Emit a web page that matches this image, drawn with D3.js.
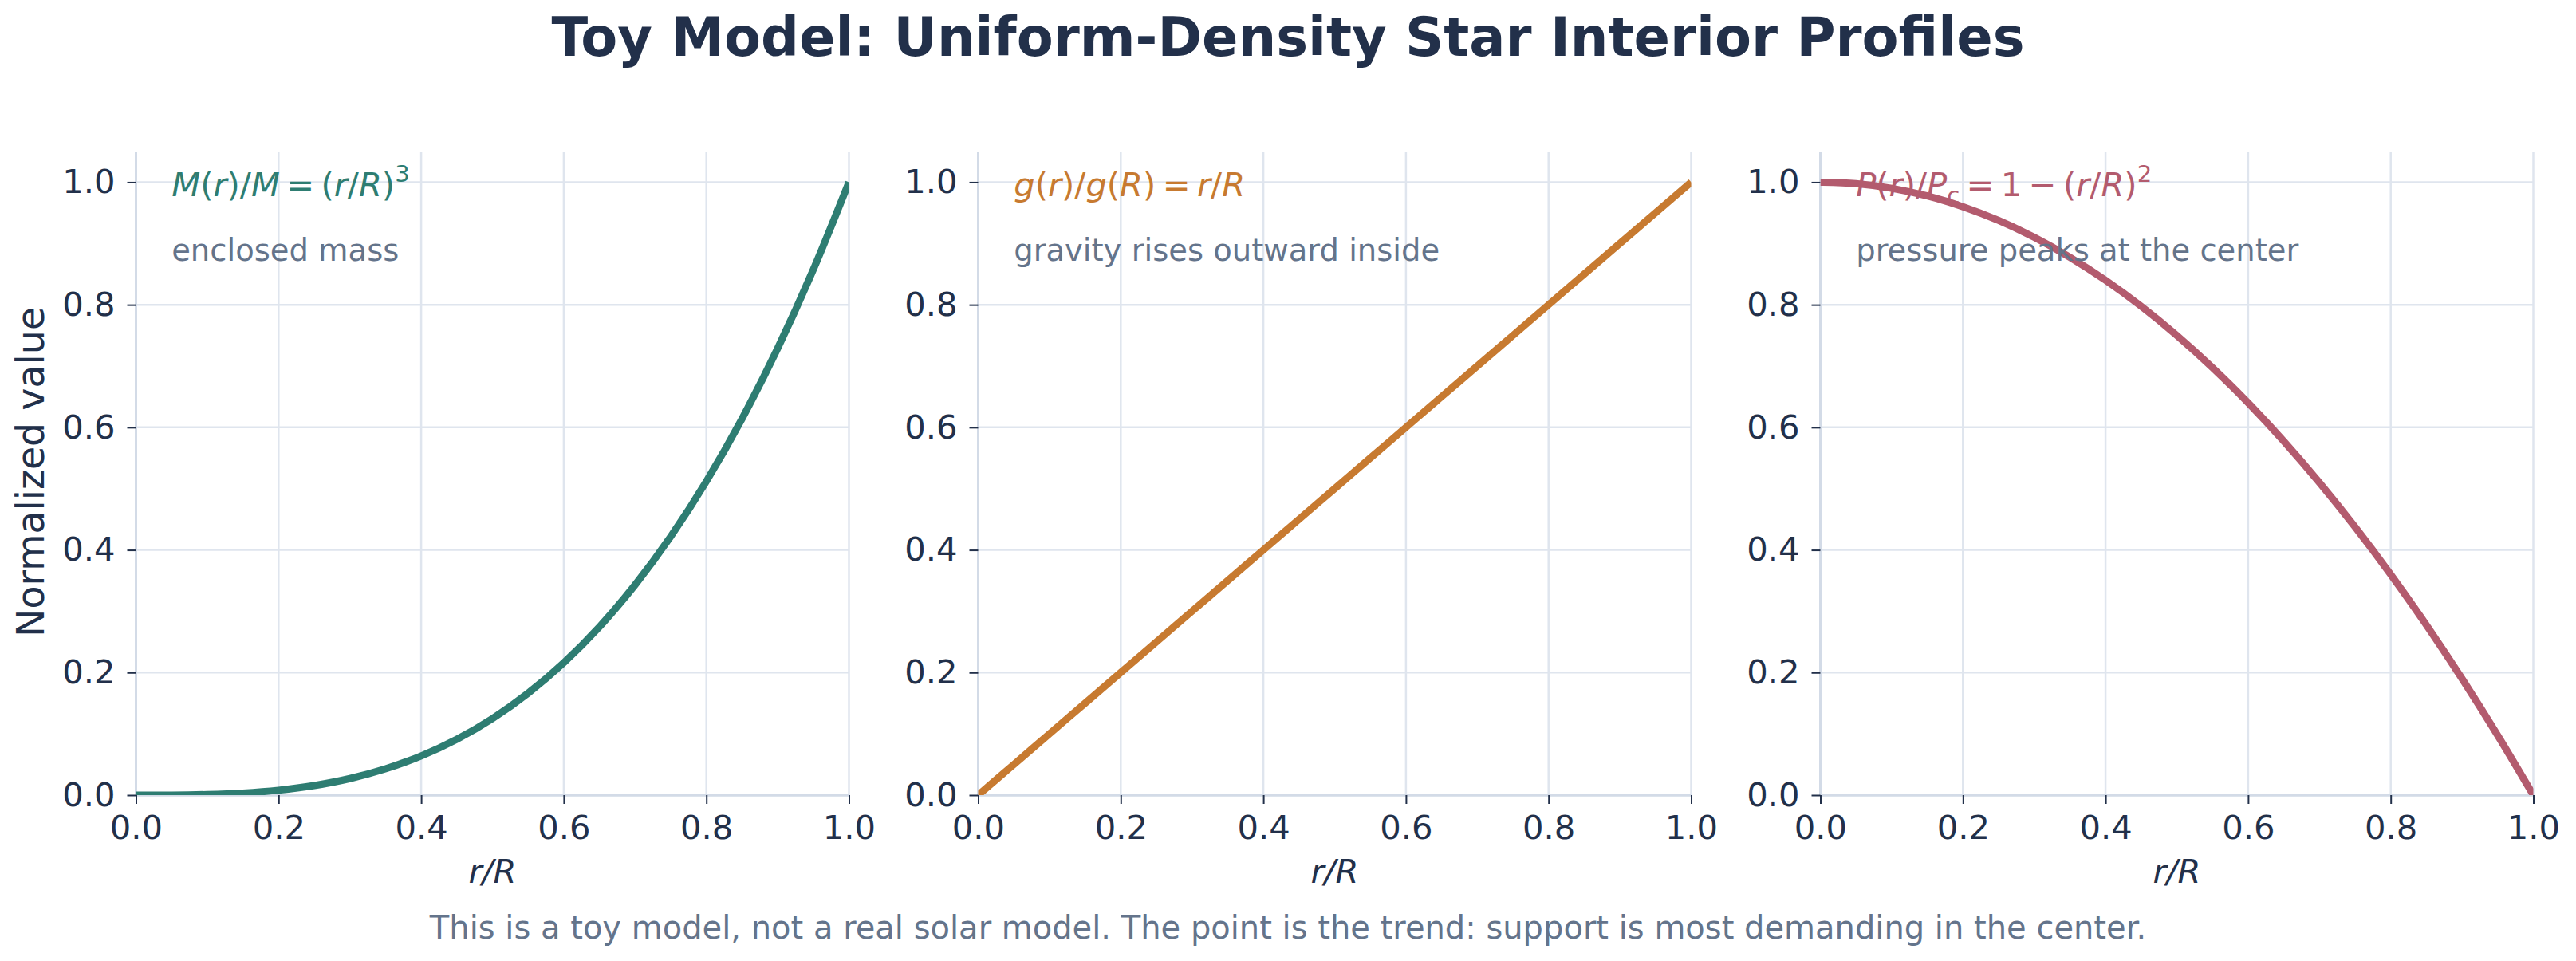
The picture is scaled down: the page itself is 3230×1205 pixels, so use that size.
<!DOCTYPE html>
<html>
<head>
<meta charset="utf-8">
<script src="https://cdn.jsdelivr.net/npm/d3@7"></script>
<style>
  html, body { margin: 0; padding: 0; background: #fff; }
  svg { display: block; font-family: "DejaVu Sans", sans-serif; }
</style>
</head>
<body>
<svg id="chart" width="3230" height="1205"></svg>
<script>
// values, r/R from 0 to 1 in steps of 0.05
const rValues = [0, 0.05, 0.1, 0.15, 0.2, 0.25, 0.3, 0.35, 0.4, 0.45, 0.5,
  0.55, 0.6, 0.65, 0.7, 0.75, 0.8, 0.85, 0.9, 0.95, 1.0];
const massValues = [0, 0.0001, 0.001, 0.0034, 0.008, 0.0156, 0.027, 0.0429, 0.064, 0.0911, 0.125,
  0.1664, 0.216, 0.2746, 0.343, 0.4219, 0.512, 0.6141, 0.729, 0.8574, 1.0];
const gravityValues = [0, 0.05, 0.1, 0.15, 0.2, 0.25, 0.3, 0.35, 0.4, 0.45, 0.5,
  0.55, 0.6, 0.65, 0.7, 0.75, 0.8, 0.85, 0.9, 0.95, 1.0];
const pressureValues = [1.0, 0.9975, 0.99, 0.9775, 0.96, 0.9375, 0.91, 0.8775, 0.84, 0.7975, 0.75,
  0.6975, 0.64, 0.5775, 0.51, 0.4375, 0.36, 0.2775, 0.19, 0.0975, 0];

const seriesValues = [massValues, gravityValues, pressureValues];
const seriesColors = ['#2e7d72', '#c77a30', '#b35b6e'];
const seriesNotes = ['enclosed mass', 'gravity rises outward inside', 'pressure peaks at the center'];
// formula pieces: [text, kind] kind = i (italic), n (upright), sup, sub
const seriesFormulas = [
  [['M', 'i'], ['(', 'n'], ['r', 'i'], [')/', 'n'], ['M', 'i'], ['\u2009=\u2009', 'n'], ['(', 'n'], ['r', 'i'], ['/', 'n'], ['R', 'i'], [')', 'n'], ['3', 'sup']],
  [['g', 'i'], ['(', 'n'], ['r', 'i'], [')/', 'n'], ['g', 'i'], ['(', 'n'], ['R', 'i'], [')', 'n'], ['\u2009=\u2009', 'n'], ['r', 'i'], ['/', 'n'], ['R', 'i']],
  [['P', 'i'], ['(', 'n'], ['r', 'i'], [')/', 'n'], ['P', 'i'], ['c', 'sub'], ['\u2009=\u20091\u2009\u2212\u2009', 'n'], ['(', 'n'], ['r', 'i'], ['/', 'n'], ['R', 'i'], [')', 'n'], ['2', 'sup']]
];
const xTicks = [0, 0.2, 0.4, 0.6, 0.8, 1.0];
const yTicks = [0, 0.2, 0.4, 0.6, 0.8, 1.0];

const titleText = 'Toy Model: Uniform-Density Star Interior Profiles';
const footerText = 'This is a toy model, not a real solar model. The point is the trend: support is most demanding in the center.';

const ink = '#22304a';
const muted = '#64748b';
const gridColor = '#dfe5ee';
const spineColor = '#d3dbe7';

const svg = d3.select('#chart');
const panelLefts = [170.5, 1226.5, 2282.5];
const panelWidth = 894;
const plotTop = 190, plotBottom = 997;

const y = d3.scaleLinear().domain([0, 1.05]).range([plotBottom, plotTop]);

svg.append('text')
  .attr('x', 1615).attr('y', 70)
  .attr('text-anchor', 'middle')
  .attr('font-size', 67).attr('font-weight', 'bold')
  .attr('fill', ink)
  .text(titleText);

const defs = svg.append('defs');

panelLefts.forEach((left, i) => {
  const x = d3.scaleLinear().domain([0, 1]).range([left, left + panelWidth]);
  const g = svg.append('g');

  // grid
  g.append('g').selectAll('line').data(xTicks).join('line')
    .attr('x1', d => x(d)).attr('x2', d => x(d))
    .attr('y1', plotTop).attr('y2', plotBottom)
    .attr('stroke', gridColor).attr('stroke-width', 2.5);
  g.append('g').selectAll('line').data(yTicks).join('line')
    .attr('x1', x(0)).attr('x2', x(1))
    .attr('y1', d => y(d)).attr('y2', d => y(d))
    .attr('stroke', gridColor).attr('stroke-width', 2.5);

  // spines (left + bottom only)
  g.append('line').attr('x1', x(0)).attr('x2', x(0)).attr('y1', plotTop).attr('y2', plotBottom)
    .attr('stroke', spineColor).attr('stroke-width', 3);
  g.append('line').attr('x1', x(0)).attr('x2', x(1)).attr('y1', plotBottom).attr('y2', plotBottom)
    .attr('stroke', spineColor).attr('stroke-width', 3.5);

  // axes
  const xAxis = g.append('g').attr('transform', `translate(0,${plotBottom})`)
    .call(d3.axisBottom(x).tickValues(xTicks).tickFormat(d3.format('.1f')).tickSize(11).tickPadding(14));
  const yAxis = g.append('g').attr('transform', `translate(${x(0)},0)`)
    .call(d3.axisLeft(y).tickValues(yTicks).tickFormat(d3.format('.1f')).tickSize(11).tickPadding(15));
  [xAxis, yAxis].forEach(a => {
    a.select('.domain').remove();
    a.selectAll('.tick line').attr('stroke', ink).attr('stroke-width', 2);
    a.selectAll('.tick text').attr('fill', ink).attr('font-size', 41.7)
      .attr('font-family', '"DejaVu Sans", sans-serif');
  });

  // curve, clipped to the axes box
  const clipId = 'clip' + i;
  defs.append('clipPath').attr('id', clipId).append('rect')
    .attr('x', x(0)).attr('y', plotTop).attr('width', panelWidth).attr('height', plotBottom - plotTop);
  const line = d3.line()
    .x((d, k) => x(rValues[k]))
    .y(d => y(d))
    .curve(d3.curveMonotoneX);
  g.append('path')
    .attr('clip-path', `url(#${clipId})`)
    .attr('d', line(seriesValues[i]))
    .attr('fill', 'none')
    .attr('stroke', seriesColors[i])
    .attr('stroke-width', 9)
    .attr('stroke-linejoin', 'round');

  // formula
  const fs = 41.7;
  const ft = g.append('text')
    .attr('x', x(0.05)).attr('y', 246)
    .attr('font-size', fs).attr('fill', seriesColors[i]);
  let shift = 0;
  seriesFormulas[i].forEach(([t, kind]) => {
    const ts = ft.append('tspan').text(t);
    let target = 0;
    if (kind === 'i') ts.attr('font-style', 'italic');
    if (kind === 'sup') { target = -0.42 * fs; ts.attr('font-size', fs * 0.7); }
    if (kind === 'sub') { target = 0.22 * fs; ts.attr('font-size', fs * 0.7); }
    if (target !== shift) { ts.attr('dy', target - shift); shift = target; }
  });

  g.append('text')
    .attr('x', x(0.05)).attr('y', 327)
    .attr('font-size', 38.5).attr('fill', muted)
    .text(seriesNotes[i]);

  g.append('text')
    .attr('x', x(0.5)).attr('y', 1107)
    .attr('text-anchor', 'middle')
    .attr('font-size', 41.7).attr('fill', ink)
    .attr('font-style', 'italic')
    .text('r/R');
});

svg.append('text')
  .attr('transform', 'translate(55,592) rotate(-90)')
  .attr('text-anchor', 'middle')
  .attr('font-size', 47.5).attr('fill', ink)
  .text('Normalized value');

svg.append('text')
  .attr('x', 1615).attr('y', 1177)
  .attr('text-anchor', 'middle')
  .attr('font-size', 40).attr('fill', muted)
  .text(footerText);
</script>
</body>
</html>
